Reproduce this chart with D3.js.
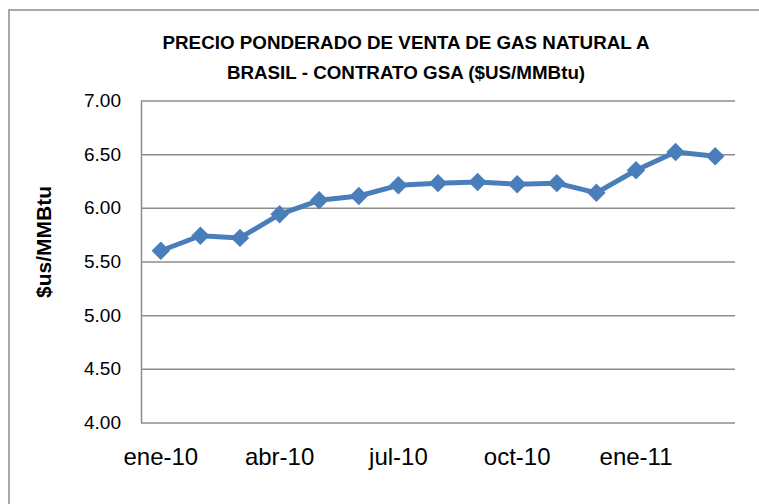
<!DOCTYPE html>
<html>
<head>
<meta charset="utf-8">
<script src="https://cdn.jsdelivr.net/npm/d3@7"></script>
<style>
  body { margin: 0; background: #fff; overflow: hidden; }
  svg { display: block; }
  text { font-family: 'Liberation Sans', Arial, sans-serif; fill: #000; }
</style>
</head>
<body>
<div class="chart"></div>
<script>
const months = ['ene-10', 'feb-10', 'mar-10', 'abr-10', 'may-10', 'jun-10', 'jul-10',
  'ago-10', 'sep-10', 'oct-10', 'nov-10', 'dic-10', 'ene-11', 'feb-11', 'mar-11'];
const prices = [5.60, 5.74, 5.72, 5.94, 6.07, 6.11, 6.21, 6.23, 6.24, 6.22, 6.23, 6.14, 6.35, 6.52, 6.48];
const yTicks = [4.00, 4.50, 5.00, 5.50, 6.00, 6.50, 7.00];
const xTicks = ['ene-10', 'abr-10', 'jul-10', 'oct-10', 'ene-11'];
const titleLines = ['PRECIO PONDERADO DE VENTA DE GAS NATURAL A', 'BRASIL - CONTRATO GSA ($US/MMBtu)'];
const yTitle = '$us/MMBtu';

const FULL_WIDTH = 759;
const FULL_HEIGHT = 504;
const margin = { top: 100.5, right: 24, bottom: 81.5, left: 141 };
const width = FULL_WIDTH - margin.left - margin.right;
const height = FULL_HEIGHT - margin.top - margin.bottom;
const grey = '#8c8c8c';
const blue = '#4a7ebb';

const root = d3.select('.chart')
  .append('svg')
    .attr('width', FULL_WIDTH)
    .attr('height', FULL_HEIGHT);

// chart frame: only the top and left sides are inside the picture
root.append('path')
  .attr('d', d3.line()([[9, FULL_HEIGHT], [9, 10], [FULL_WIDTH, 10]]))
  .attr('fill', 'none')
  .attr('stroke', grey)
  .attr('stroke-width', 1.5);

root.append('g')
  .selectAll('text')
  .data(titleLines)
  .join('text')
    .attr('x', 406)
    .attr('y', (d, i) => 49 + i * 30)
    .attr('text-anchor', 'middle')
    .style('font-size', '18.8px')
    .style('font-weight', 'bold')
    .text(d => d);

root.append('text')
  .attr('transform', 'translate(51, 242) rotate(-90)')
  .attr('text-anchor', 'middle')
  .style('font-size', '21px')
  .style('font-weight', 'bold')
  .text(yTitle);

const svg = root.append('g')
  .attr('transform', `translate(${margin.left}, ${margin.top})`);

const xScale = d3.scaleBand()
  .domain(months)
  .range([0, width]);

const yScale = d3.scaleLinear()
  .domain([4, 7])
  .range([height, 0]);

const yAxis = svg.append('g')
  .call(d3.axisLeft(yScale)
    .tickValues(yTicks)
    .tickFormat(d3.format('.2f'))
    .tickSize(-width)
    .tickSizeOuter(0)
    .tickPadding(20));
yAxis.selectAll('line').attr('stroke', grey).attr('stroke-width', 1.5);
yAxis.select('.domain').attr('stroke', grey).attr('stroke-width', 1.5);
yAxis.selectAll('text')
  .style('font-size', '19px')
  .style('font-family', "'Liberation Sans', Arial, sans-serif")
  .attr('fill', '#000');

const xAxis = svg.append('g')
  .attr('transform', `translate(0, ${height})`)
  .call(d3.axisBottom(xScale)
    .tickValues(xTicks)
    .tickSize(0)
    .tickPadding(25));
xAxis.select('.domain').remove();
xAxis.selectAll('text')
  .style('font-size', '24px')
  .style('font-family', "'Liberation Sans', Arial, sans-serif")
  .attr('fill', '#000');

const xPos = d => xScale(d) + xScale.bandwidth() / 2;

const line = d3.line()
  .x((d, i) => xPos(months[i]))
  .y(d => yScale(d));

svg.append('path')
  .datum(prices)
  .attr('fill', 'none')
  .attr('stroke', blue)
  .attr('stroke-width', 5)
  .attr('stroke-linejoin', 'round')
  .attr('d', line);

// square diamond marker
const diamond = {
  draw(context, size) {
    const r = Math.sqrt(size / 2);
    context.moveTo(0, -r);
    context.lineTo(r, 0);
    context.lineTo(0, r);
    context.lineTo(-r, 0);
    context.closePath();
  }
};

svg.selectAll('.marker')
  .data(prices)
  .join('path')
    .attr('class', 'marker')
    .attr('transform', (d, i) => `translate(${xPos(months[i])}, ${yScale(d)})`)
    .attr('d', d3.symbol().type(diamond).size(170))
    .attr('fill', blue);
</script>
</body>
</html>
